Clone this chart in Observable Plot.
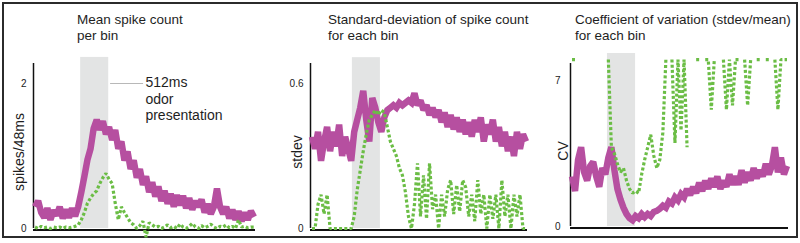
<!DOCTYPE html>
<html><head><meta charset="utf-8">
<script src="https://cdn.jsdelivr.net/npm/d3@7"></script>
<script src="https://cdn.jsdelivr.net/npm/@observablehq/plot@0.6"></script>
<style>
html,body{margin:0;padding:0;background:#fff;}
#wrap{position:relative;width:800px;height:243px;overflow:hidden;font-family:"Liberation Sans",Arial,sans-serif;}
#border{position:absolute;left:2px;top:2px;width:796px;height:236px;box-sizing:border-box;border:2px solid #2b2b2b;}
.title{position:absolute;top:12px;font-size:13.5px;line-height:16px;color:#1e1e1e;white-space:nowrap;}
</style></head><body>
<div id="wrap"><div id="border"></div></div>
<script>
// time bins (index)
const bins = d3.range(72);

// Panel 1: mean spike count per bin (spikes/48ms)
const meanMagenta = [0.30,0.38,0.22,0.15,0.28,0.12,0.25,0.18,0.30,0.14,
 0.26,0.15,0.28,0.17,0.30,0.50,0.72,0.95,1.10,1.38,
 1.50,1.36,1.48,1.30,1.40,1.22,1.36,1.10,1.20,0.94,
 1.06,0.82,0.94,0.70,0.82,0.60,0.72,0.50,0.64,0.44,
 0.58,0.38,0.52,0.34,0.48,0.30,0.46,0.32,0.45,0.28,
 0.42,0.26,0.38,0.30,0.40,0.22,0.34,0.20,0.30,0.55,
 0.30,0.20,0.30,0.14,0.26,0.12,0.24,0.10,0.22,0.12,
 0.24,0.16];
const meanGreen = [0.02,0.00,0.03,0.01,0.02,0.00,0.02,0.01,0.02,0.00,
 0.02,0.01,0.02,0.03,0.05,0.12,0.22,0.35,0.42,0.48,
 0.52,0.62,0.70,0.76,0.68,0.62,0.35,0.12,0.30,0.22,
 0.15,0.08,0.05,0.00,0.04,0.10,-0.12,0.08,0.05,0.02,
 0.03,0.00,0.02,0.05,0.01,0.03,0.00,0.06,0.02,0.00,
 0.03,0.07,0.02,0.00,0.04,0.01,0.03,0.06,0.02,0.00,
 0.03,0.02,0.05,0.01,0.03,0.00,0.12,0.02,0.03,0.01,
 0.02,0.02];

// Panel 2: standard deviation of spike count
const sdMagenta = [0.38,0.33,0.40,0.28,0.36,0.42,0.32,0.40,0.34,0.43,
 0.30,0.38,0.33,0.28,0.40,0.45,0.50,0.57,0.45,0.36,
 0.54,0.50,0.44,0.40,0.46,0.49,0.50,0.51,0.50,0.52,
 0.51,0.52,0.53,0.52,0.56,0.51,0.53,0.49,0.51,0.47,
 0.50,0.46,0.49,0.44,0.48,0.42,0.47,0.41,0.46,0.40,
 0.45,0.39,0.44,0.38,0.45,0.40,0.46,0.36,0.43,0.39,
 0.45,0.36,0.42,0.34,0.40,0.32,0.38,0.30,0.40,0.33,
 0.39,0.36];
const sdGreen = [0,0,0.10,0.14,0.06,0.14,0,0,0,0,
 0,0,0,0,0.05,0.16,0.24,0.32,0.39,0.45,
 0.47,0.49,0.47,0.49,0.48,0.42,0.36,0.33,0.30,0.25,
 0.22,0.15,0.05,0,0.10,0.27,0.05,0.22,0.04,0.27,
 0.08,0.14,0,0.14,0.05,0.16,0.20,0.06,0.18,0.07,
 0.20,0.17,0.05,0.14,0.03,0.20,0.06,0.14,0,0.14,
 0.04,0.14,0,0.20,0.05,0.14,0,0.14,0.05,0.14,
 0,0];

// Panel 3: coefficient of variation (null = undefined)
const cvMagenta = [2.4,1.7,3.2,3.8,2.6,2.2,2.9,3.1,2.4,1.9,
 2.8,2.5,3.3,3.8,2.7,1.8,1.3,0.9,0.6,0.4,
 0.3,0.5,0.4,0.6,0.45,0.6,0.5,0.7,0.75,0.85,
 1.0,0.9,1.2,1.1,1.4,1.25,1.55,1.4,1.8,1.5,
 1.9,1.6,2.1,1.7,2.2,1.8,2.3,1.9,2.4,1.8,
 2.2,1.9,2.5,2.0,2.4,2.0,2.7,2.1,2.6,2.2,
 2.8,2.3,2.7,2.4,3.0,2.5,2.9,3.8,2.6,3.3,
 2.5,2.9];
const cvGreen = [8,8,null,null,null,null,null,null,null,null,
 null,null,8,3.8,3.5,3.0,2.6,2.8,2.2,1.8,
 1.6,1.7,1.6,2.5,3.2,3.8,4.4,3.4,2.8,3.2,
 4.5,8,null,8,4.0,8,4.6,8,3.8,null,
 null,8,8,null,8,8,5.6,8,null,null,
 8,5.6,8,5.8,8,8,null,8,5.8,8,
 null,8,8,null,8,8,null,8,5.6,8,
 8,8];

// odor presentation (512 ms) in bin units, per panel
const odorBins = [[14.8, 23.9], [13.4, 22.7], [11.7, 21.0]];

const titles = [["Mean spike count", "per bin"],
  ["Standard-deviation of spike count", "for each bin"],
  ["Coefficient of variation (stdev/mean)", "for each bin"]];
const yLabels = ["spikes/48ms", "stdev", "CV"];
const yTicks = [[0, 2], [0, 0.6], [0, 7]];
const annotation = "512ms\nodor\npresentation";

const MAGENTA = "#b64fa0", GREEN = "#6bbd45", BAND = "#e3e4e4";

const panels = [
  {left: 0, width: 265, ml: 33, mr: 10, mb: 15, yMax: 2.276, bandTop: 2.36, tickPad: 7, labelDx: -14, titleLeft: 77,
   magenta: meanMagenta, green: meanGreen},
  {left: 265, width: 270, ml: 45, mr: 8, mb: 15, yMax: 0.6828, bandTop: 0.707, tickPad: 7, labelDx: -13, titleLeft: 328,
   magenta: sdMagenta, green: sdGreen},
  {left: 535, width: 265, ml: 35, mr: 12, mb: 17, yMax: 7.81, bandTop: 8.29, tickPad: 10, labelDx: -7, titleLeft: 575,
   magenta: cvMagenta, green: cvGreen}
];

const wrap = document.getElementById("wrap");

panels.forEach((p, k) => {
  const data = bins.map((b, i) => ({b, m: p.magenta[i], g: p.green[i]}));
  const odor = odorBins[k];
  const extra = [];
  if (k === 0) {
    extra.push(Plot.ruleY([yTicks[0][1]], {x1: odor[1] + 0.6, x2: odor[1] + 11.3, stroke: "#b8b8b8", strokeWidth: 1.2}));
    extra.push(Plot.text([annotation], {x: odor[1] + 11.9, y: yTicks[0][1], text: d => d, textAnchor: "start", lineAnchor: "top", dy: -8, fontSize: 14, lineHeight: 1.18, fill: "#1e1e1e"}));
  }
  const chart = Plot.plot({
    width: p.width, height: 243,
    marginLeft: p.ml, marginRight: p.mr, marginTop: 63, marginBottom: p.mb,
    x: {domain: [-0.5, 71.5], axis: null},
    y: {domain: [0, p.yMax], axis: null},
    marks: [
      Plot.rect([odor], {x1: d => d[0], x2: d => d[1], y1: 0, y2: p.bandTop, fill: BAND}),
      Plot.ruleY([0], {stroke: "#111", strokeWidth: 2, dy: 1.5}),
      Plot.ruleX([-0.5], {y1: 0, y2: p.yMax, stroke: "#111", strokeWidth: 1.5}),
      Plot.axisY({ticks: yTicks[k], tickSize: 0, tickPadding: p.tickPad, label: null, fontSize: 10, tickFormat: d => String(d)}),
      Plot.line(data, {x: "b", y: "m", stroke: MAGENTA, strokeWidth: 6.5, strokeLinejoin: "miter", strokeMiterlimit: 2, strokeLinecap: "butt"}),
      Plot.line(data, {x: "b", y: "g", stroke: GREEN, strokeWidth: 3.2, strokeDasharray: "3,2.2", strokeLinejoin: "miter", strokeLinecap: "butt"}),
      Plot.text([yLabels[k]], {frameAnchor: "left", text: d => d, rotate: -90, textAnchor: "middle", dx: p.labelDx, dy: 6, fontSize: 14, fill: "#1e1e1e"}),
      ...extra
    ]
  });
  chart.style.position = "absolute";
  chart.style.left = p.left + "px";
  chart.style.top = "0px";
  chart.style.overflow = "visible";
  chart.style.background = "none";
  chart.style.fontFamily = "'Liberation Sans', Arial, sans-serif";
  chart.style.color = "#222";
  wrap.appendChild(chart);

  const t = document.createElement("div");
  t.className = "title";
  t.style.left = p.titleLeft + "px";
  t.innerHTML = titles[k].join("<br>");
  wrap.appendChild(t);
});
</script>
</body></html>
